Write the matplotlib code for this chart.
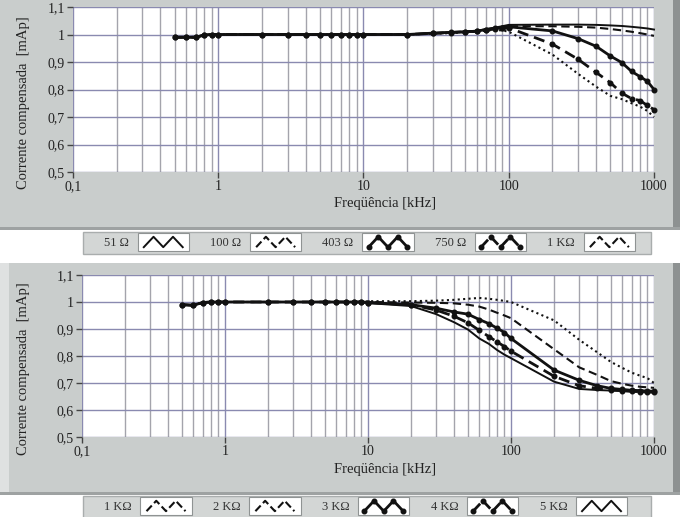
import numpy as np
import matplotlib
matplotlib.use("Agg")
import matplotlib.pyplot as plt
from matplotlib.patches import Rectangle
from matplotlib.lines import Line2D
from matplotlib.legend_handler import HandlerBase
from matplotlib.ticker import FixedLocator, NullFormatter

# ---------------- data ----------------
freq = [0.5, 0.6, 0.7, 0.8, 0.9, 1, 2, 3, 4, 5, 6, 7, 8, 9, 10,
        20, 30, 40, 50, 60, 70, 80, 90, 100,
        200, 300, 400, 500, 600, 700, 800, 900, 1000]

# top panel (load resistances)
top_labels = ["51 Ω", "100 Ω", "403 Ω", "750 Ω", "1 KΩ"]
r51 = [0.990, 0.990, 0.990, 0.998, 1.000, 1.000, 1.000, 1.000, 1.000, 1.000, 1.000, 1.000, 1.000, 1.000, 1.000,
       1.000, 1.005, 1.008, 1.010, 1.013, 1.020, 1.025, 1.030, 1.035,
       1.036, 1.036, 1.035, 1.033, 1.031, 1.028, 1.025, 1.022, 1.018]
r100 = [0.990, 0.990, 0.990, 0.998, 1.000, 1.000, 1.000, 1.000, 1.000, 1.000, 1.000, 1.000, 1.000, 1.000, 1.000,
        1.000, 1.004, 1.007, 1.010, 1.012, 1.018, 1.022, 1.026, 1.030,
        1.030, 1.028, 1.025, 1.020, 1.015, 1.010, 1.005, 1.000, 0.995]
r403 = [0.990, 0.990, 0.990, 0.998, 1.000, 1.000, 1.000, 1.000, 1.000, 1.000, 1.000, 1.000, 1.000, 1.000, 1.000,
        1.000, 1.005, 1.008, 1.010, 1.012, 1.018, 1.022, 1.025, 1.028,
        1.013, 0.985, 0.957, 0.922, 0.898, 0.866, 0.847, 0.830, 0.800]
r750 = [0.990, 0.990, 0.990, 0.998, 1.000, 1.000, 1.000, 1.000, 1.000, 1.000, 1.000, 1.000, 1.000, 1.000, 1.000,
        1.000, 1.004, 1.007, 1.010, 1.012, 1.016, 1.020, 1.022, 1.024,
        0.965, 0.910, 0.862, 0.825, 0.787, 0.767, 0.760, 0.742, 0.727]
r1k = [0.990, 0.990, 0.990, 0.998, 1.000, 1.000, 1.000, 1.000, 1.000, 1.000, 1.000, 1.000, 1.000, 1.000, 1.000,
       1.000, 1.003, 1.005, 1.008, 1.010, 1.014, 1.016, 1.015, 1.010,
       0.927, 0.857, 0.810, 0.777, 0.765, 0.750, 0.738, 0.722, 0.700]

# bottom panel
bot_labels = ["1 KΩ", "2 KΩ", "3 KΩ", "4 KΩ", "5 KΩ"]
b1k = [0.990, 0.988, 0.998, 1.000, 1.000, 1.000, 1.000, 1.000, 1.000, 1.000, 1.000, 1.000, 1.000, 1.000, 1.003,
       1.003, 1.005, 1.008, 1.012, 1.015, 1.012, 1.008, 1.004, 1.000,
       0.932, 0.860, 0.814, 0.778, 0.756, 0.738, 0.727, 0.718, 0.700]
b2k = [0.990, 0.988, 0.998, 1.000, 1.000, 1.000, 1.000, 1.000, 1.000, 1.000, 1.000, 1.000, 1.000, 1.000, 1.000,
       0.998, 0.997, 0.995, 0.990, 0.983, 0.972, 0.960, 0.950, 0.940,
       0.825, 0.758, 0.730, 0.707, 0.697, 0.690, 0.686, 0.684, 0.682]
b3k = [0.990, 0.988, 0.998, 1.000, 1.000, 1.000, 1.000, 1.000, 1.000, 1.000, 1.000, 1.000, 1.000, 1.000, 0.998,
       0.990, 0.977, 0.963, 0.955, 0.935, 0.920, 0.903, 0.887, 0.865,
       0.748, 0.710, 0.690, 0.680, 0.676, 0.673, 0.672, 0.670, 0.670]
b4k = [0.990, 0.988, 0.998, 1.000, 1.000, 1.000, 1.000, 1.000, 1.000, 1.000, 1.000, 1.000, 1.000, 1.000, 0.998,
       0.990, 0.970, 0.947, 0.923, 0.895, 0.872, 0.852, 0.835, 0.818,
       0.725, 0.690, 0.680, 0.675, 0.672, 0.670, 0.668, 0.667, 0.667]
b5k = [0.990, 0.988, 0.998, 1.000, 1.000, 1.000, 1.000, 1.000, 1.000, 1.000, 1.000, 1.000, 1.000, 1.000, 0.996,
       0.985, 0.955, 0.925, 0.898, 0.865, 0.845, 0.822, 0.805, 0.792,
       0.705, 0.678, 0.674, 0.672, 0.670, 0.668, 0.667, 0.666, 0.665]

xticks = [0.1, 1, 10, 100, 1000]
xticklabels = ["0,1", "1", "10", "100", "1000"]
yticks = [0.5, 0.6, 0.7, 0.8, 0.9, 1.0, 1.1]
yticklabels = ["0,5", "0,6", "0,7", "0,8", "0,9", "1", "1,1"]

# ---------------- styles ----------------
SOLID_THIN = dict(ls="-", lw=1.4, marker=None)
DASHED = dict(ls=(0, (4, 2.2)), lw=1.5, marker=None)
SOLID_MARK = dict(ls="-", lw=2.0, marker="o", ms=3.3)
DASHED_MARK = dict(ls=(0, (4, 2.2)), lw=2.0, marker="o", ms=3.3)
DOTTED = dict(ls=(0, (1, 1.6)), lw=1.5, marker=None)

top_series = [r51, r100, r403, r750, r1k]
top_styles = [SOLID_THIN, DASHED, SOLID_MARK, DASHED_MARK, DOTTED]
bot_series = [b1k, b2k, b3k, b4k, b5k]
bot_styles = [DOTTED, DASHED, SOLID_MARK, DASHED_MARK, SOLID_THIN]

W, H = 680, 517
PANEL = "#c9cdcc"
SHADOW = "#8d9191"
LEGBG = "#d3d6d5"
MAJ_GRID = "#8a8ab0"
MIN_GRID = "#a4a4ac"
SERIF = ["Liberation Serif", "DejaVu Serif"]

plt.rcParams["font.family"] = SERIF

fig = plt.figure(figsize=(W / 100, H / 100), dpi=100)
fig.patch.set_facecolor("white")


def px_rect(x0, y0, x1, y1, **kw):
    r = Rectangle((x0 / W, 1 - y1 / H), (x1 - x0) / W, (y1 - y0) / H,
                  transform=fig.transFigure, **kw)
    fig.add_artist(r)
    r.set_zorder(-10)
    return r


# panels
px_rect(0, 0, 673, 229, facecolor=PANEL, edgecolor="none")
px_rect(673, 0, 680, 229, facecolor=SHADOW, edgecolor="none")
px_rect(0, 227, 680, 230, facecolor="#9ea2a2", edgecolor="none")
px_rect(0, 263, 673, 494, facecolor=PANEL, edgecolor="none")
px_rect(673, 263, 680, 494, facecolor=SHADOW, edgecolor="none")
px_rect(0, 492, 680, 495, facecolor="#9ea2a2", edgecolor="none")
px_rect(0, 263, 9, 492, facecolor="#dfe1e1", edgecolor="none")
# legend bars
px_rect(83, 232, 651, 254, facecolor=LEGBG, edgecolor="#a9adad", lw=1)
px_rect(83, 496, 651, 520, facecolor=LEGBG, edgecolor="#a9adad", lw=1)


def make_axes(x0, y0, x1, y1, series, styles, xlab_cx, xlab_top):
    ax = fig.add_axes([x0 / W, 1 - y1 / H, (x1 - x0) / W, (y1 - y0) / H])
    ax.set_facecolor("white")
    ax.set_xscale("log")
    ax.set_xlim(0.1, 1000)
    ax.set_ylim(0.5, 1.1)
    handles = []
    for s, st in zip(series, styles):
        (h,) = ax.plot(freq, s, color="#111111", linestyle=st["ls"], lw=st["lw"],
                       marker=st["marker"], ms=st.get("ms", 0),
                       markerfacecolor="#111111", markeredgecolor="#111111",
                       zorder=3, clip_on=False)
        handles.append(h)
    ax.xaxis.set_major_locator(FixedLocator(xticks))
    ax.set_xticklabels(xticklabels)
    minors = [m * d for d in [0.1, 1, 10, 100] for m in range(2, 10)]
    ax.xaxis.set_minor_locator(FixedLocator(minors))
    ax.xaxis.set_minor_formatter(NullFormatter())
    ax.set_yticks(yticks)
    ax.set_yticklabels(yticklabels)
    ax.grid(True, which="major", color=MAJ_GRID, lw=1.0)
    ax.grid(True, which="minor", axis="x", color=MIN_GRID, lw=1.0)
    ax.set_axisbelow(True)
    for sp in ax.spines.values():
        sp.set_visible(False)
    ax.tick_params(axis="both", which="major", length=4, width=1, color="#444444",
                   labelsize=10, labelcolor="#222222", pad=2)
    ax.tick_params(axis="x", which="minor", length=0)
    ax.set_ylabel("Corrente compensada  [mAp]", fontsize=10.5, color="#222222", labelpad=6)
    ax.yaxis.set_label_coords((30 - x0) / (x1 - x0), 0.42)
    ax.set_xlabel("Freqüência [kHz]", fontsize=10.5, color="#222222")
    ax.xaxis.set_label_coords((xlab_cx - x0) / (x1 - x0), (y1 - xlab_top) / (y1 - y0))
    return ax, handles


class ZigzagHandler(HandlerBase):
    def create_artists(self, legend, orig_handle, xdescent, ydescent, width, height,
                       fontsize, trans):
        box = Rectangle((-xdescent, -ydescent - 0.3 * height), width, height * 1.6,
                        facecolor="white", edgecolor="#8f9393", lw=0.8, transform=trans)
        n = 5
        xs = -xdescent + width * np.linspace(0.12, 0.88, n)
        ys = -ydescent - 0.3 * height + height * 1.6 * np.where(np.arange(n) % 2 == 0, 0.22, 0.8)
        line = Line2D(xs, ys, color="#111111", linestyle=orig_handle.get_linestyle(),
                      lw=orig_handle.get_linewidth(), marker=orig_handle.get_marker(),
                      ms=orig_handle.get_markersize(), markerfacecolor="#111111",
                      markeredgecolor="#111111")
        line.set_transform(trans)
        return [box, line]


def add_legend(handles, labels, ycenter):
    leg = fig.legend(handles, labels, loc="center left",
                     bbox_to_anchor=(104 / W, 1 - ycenter / H), ncol=5,
                     frameon=False, markerfirst=False, fontsize=9,
                     handler_map={Line2D: ZigzagHandler()},
                     handlelength=4.1, handleheight=1.0, handletextpad=0.7,
                     columnspacing=1.7, borderpad=0, borderaxespad=0)
    for t in leg.get_texts():
        t.set_color("#333333")
    return leg


ax1, h1 = make_axes(73, 7, 654, 172, top_series, top_styles, 385, 197)
ax2, h2 = make_axes(82, 275, 654, 437, bot_series, bot_styles, 385, 463)
add_legend(h1, top_labels, 243)
add_legend(h2, bot_labels, 507)

fig.savefig("out.png", dpi=100, facecolor=fig.get_facecolor())
